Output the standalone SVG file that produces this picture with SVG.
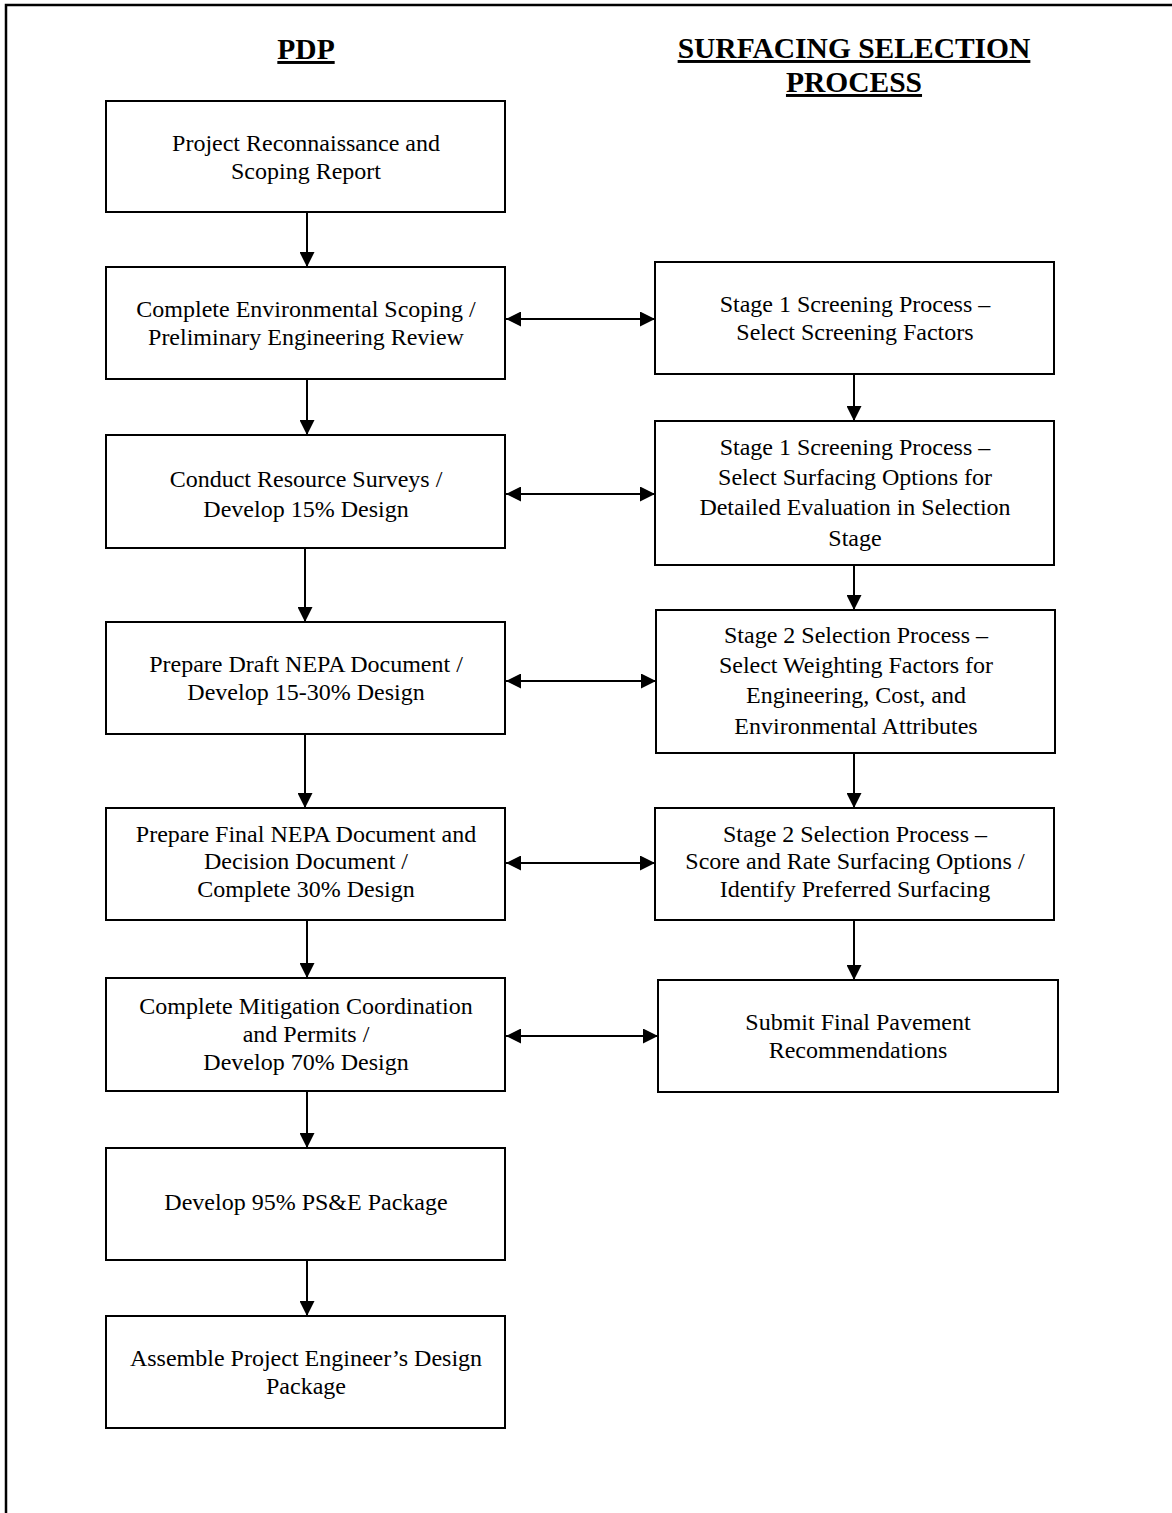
<svg xmlns="http://www.w3.org/2000/svg" width="1172" height="1513" viewBox="0 0 1172 1513">
<style>
.box{fill:#fff;stroke:#000;stroke-width:2}
.t{font-family:"Liberation Serif","Times New Roman",serif;font-size:24px;text-anchor:middle;fill:#000}
.h{font-family:"Liberation Serif","Times New Roman",serif;font-size:29.5px;font-weight:bold;text-anchor:middle;fill:#000;text-decoration:underline}
.c{stroke:#000;stroke-width:2;fill:none}
</style>
<defs>
<marker id="ah" viewBox="0 0 15 15" refX="15" refY="7.5" markerWidth="15" markerHeight="15" markerUnits="userSpaceOnUse" orient="auto-start-reverse">
<path d="M0,0 L15,7.5 L0,15 Z" fill="#000"/>
</marker>
</defs>
<rect width="1172" height="1513" fill="#fff"/>
<path d="M6,1513 V5 H1172" fill="none" stroke="#000" stroke-width="2.5"/>
<g id="headers">
<text class="h" x="306" y="59">PDP</text>
<text class="h" x="854" y="58">SURFACING SELECTION</text>
<text class="h" x="854" y="92">PROCESS</text>
</g>
<g id="connectors">
<line class="c" x1="307" y1="212" x2="307" y2="267" marker-end="url(#ah)"/>
<line class="c" x1="307" y1="379" x2="307" y2="435" marker-end="url(#ah)"/>
<line class="c" x1="305" y1="548" x2="305" y2="622" marker-end="url(#ah)"/>
<line class="c" x1="305" y1="734" x2="305" y2="808" marker-end="url(#ah)"/>
<line class="c" x1="307" y1="920" x2="307" y2="978" marker-end="url(#ah)"/>
<line class="c" x1="307" y1="1091" x2="307" y2="1148" marker-end="url(#ah)"/>
<line class="c" x1="307" y1="1260" x2="307" y2="1316" marker-end="url(#ah)"/>
<line class="c" x1="854" y1="374" x2="854" y2="421" marker-end="url(#ah)"/>
<line class="c" x1="854" y1="565" x2="854" y2="610" marker-end="url(#ah)"/>
<line class="c" x1="854" y1="753" x2="854" y2="808" marker-end="url(#ah)"/>
<line class="c" x1="854" y1="920" x2="854" y2="980" marker-end="url(#ah)"/>
<line class="c" x1="506" y1="319" x2="655" y2="319" marker-start="url(#ah)" marker-end="url(#ah)"/>
<line class="c" x1="506" y1="494" x2="655" y2="494" marker-start="url(#ah)" marker-end="url(#ah)"/>
<line class="c" x1="506" y1="681" x2="656" y2="681" marker-start="url(#ah)" marker-end="url(#ah)"/>
<line class="c" x1="506" y1="863" x2="655" y2="863" marker-start="url(#ah)" marker-end="url(#ah)"/>
<line class="c" x1="506" y1="1036" x2="658" y2="1036" marker-start="url(#ah)" marker-end="url(#ah)"/>
</g>
<g id="L1"><rect class="box" x="106" y="101" width="399" height="111"/>
<text class="t" x="306" y="151">Project Reconnaissance and</text>
<text class="t" x="306" y="179">Scoping Report</text></g>
<g id="L2"><rect class="box" x="106" y="267" width="399" height="112"/>
<text class="t" x="306" y="317">Complete Environmental Scoping /</text>
<text class="t" x="306" y="345">Preliminary Engineering Review</text></g>
<g id="L3"><rect class="box" x="106" y="435" width="399" height="113"/>
<text class="t" x="306" y="487">Conduct Resource Surveys /</text>
<text class="t" x="306" y="517">Develop 15% Design</text></g>
<g id="L4"><rect class="box" x="106" y="622" width="399" height="112"/>
<text class="t" x="306" y="672">Prepare Draft NEPA Document /</text>
<text class="t" x="306" y="700">Develop 15-30% Design</text></g>
<g id="L5"><rect class="box" x="106" y="808" width="399" height="112"/>
<text class="t" x="306" y="842">Prepare Final NEPA Document and</text>
<text class="t" x="306" y="869">Decision Document /</text>
<text class="t" x="306" y="897">Complete 30% Design</text></g>
<g id="L6"><rect class="box" x="106" y="978" width="399" height="113"/>
<text class="t" x="306" y="1014">Complete Mitigation Coordination</text>
<text class="t" x="306" y="1042">and Permits /</text>
<text class="t" x="306" y="1070">Develop 70% Design</text></g>
<g id="L7"><rect class="box" x="106" y="1148" width="399" height="112"/>
<text class="t" x="306" y="1210">Develop 95% PS&amp;E Package</text></g>
<g id="L8"><rect class="box" x="106" y="1316" width="399" height="112"/>
<text class="t" x="306" y="1366">Assemble Project Engineer’s Design</text>
<text class="t" x="306" y="1394">Package</text></g>
<g id="R1"><rect class="box" x="655" y="262" width="399" height="112"/>
<text class="t" x="855" y="312">Stage 1 Screening Process –</text>
<text class="t" x="855" y="340">Select Screening Factors</text></g>
<g id="R2"><rect class="box" x="655" y="421" width="399" height="144"/>
<text class="t" x="855" y="455">Stage 1 Screening Process –</text>
<text class="t" x="855" y="485">Select Surfacing Options for</text>
<text class="t" x="855" y="515">Detailed Evaluation in Selection</text>
<text class="t" x="855" y="546">Stage</text></g>
<g id="R3"><rect class="box" x="656" y="610" width="399" height="143"/>
<text class="t" x="856" y="643">Stage 2 Selection Process –</text>
<text class="t" x="856" y="673">Select Weighting Factors for</text>
<text class="t" x="856" y="703">Engineering, Cost, and</text>
<text class="t" x="856" y="734">Environmental Attributes</text></g>
<g id="R4"><rect class="box" x="655" y="808" width="399" height="112"/>
<text class="t" x="855" y="842">Stage 2 Selection Process –</text>
<text class="t" x="855" y="869">Score and Rate Surfacing Options /</text>
<text class="t" x="855" y="897">Identify Preferred Surfacing</text></g>
<g id="R5"><rect class="box" x="658" y="980" width="400" height="112"/>
<text class="t" x="858" y="1030">Submit Final Pavement</text>
<text class="t" x="858" y="1058">Recommendations</text></g>
</svg>
